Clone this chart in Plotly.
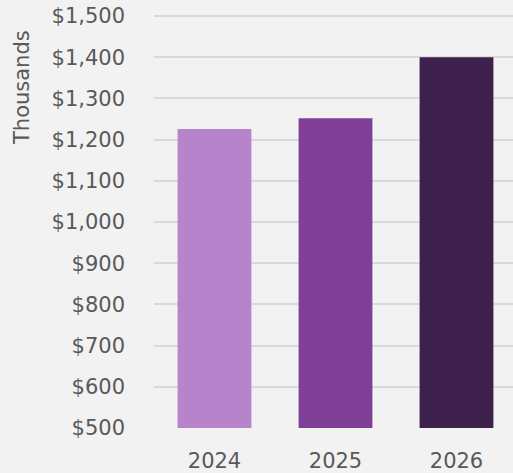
import plotly.graph_objects as go

years = ["2024", "2025", "2026"]
values = [1226, 1252, 1400]
colors = ["#b784cb", "#7f3f97", "#3e204c"]
y_ticks = list(range(500, 1501, 100))
y_labels = ["${:,}".format(v) for v in y_ticks]

W, H = 513, 473
L, R, T, B = 154, 0, 15, 45
pw, ph = W - L - R, H - T - B

fig = go.Figure(go.Bar(x=years, y=values, marker=dict(color=colors, line=dict(width=0))))
font_family = "DejaVu Sans, sans-serif"
fs = 21
txt = "#595959"
fig.update_layout(
    width=W, height=H,
    margin=dict(l=L, r=R, t=T, b=B, autoexpand=False),
    paper_bgcolor="#f2f2f2", plot_bgcolor="#f2f2f2",
    bargap=0.39,
    showlegend=False,
    font=dict(family=font_family, color=txt, size=fs),
    xaxis=dict(range=[-0.5, 2.467], showgrid=False, showline=False, zeroline=False, ticks="",
               tickfont=dict(size=fs, color=txt), ticklabelstandoff=18),
    yaxis=dict(range=[500, 1502.5], tickvals=y_ticks, ticktext=y_labels,
               showgrid=True, gridcolor="#d9d9d9", gridwidth=2, zeroline=False,
               showline=False, ticks="", tickfont=dict(size=fs, color=txt),
               ticklabelstandoff=28),
    annotations=[dict(text="Thousands", textangle=-90, xref="paper", yref="paper",
                      x=(22 - L) / pw, y=1 - (88 - T) / ph, xanchor="center", yanchor="middle",
                      showarrow=False, font=dict(size=fs, color=txt))],
)
fig.write_html("out.html", config={"displayModeBar": False},
               post_script="document.body.style.margin='0';document.body.style.background='#f2f2f2';")
